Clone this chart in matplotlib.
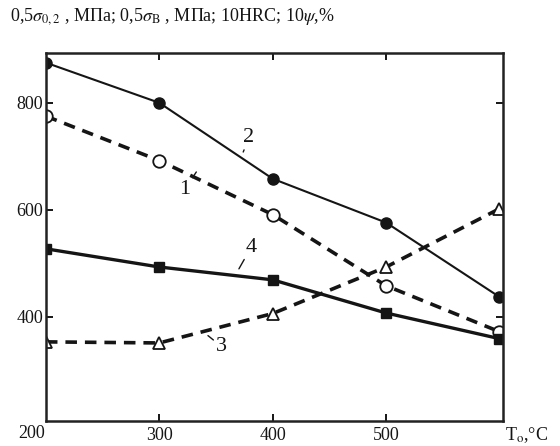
import matplotlib.pyplot as plt

# Температура отпуска, °C
temps = [200, 300, 400, 500, 600]

# 1 - 0,5σ0,2 (штрих, светлые кружки)
curve1 = [775, 692, 591, 458, 372]
# 2 - 0,5σв (сплошная, тёмные кружки)
curve2 = [875, 800, 658, 576, 437]
# 3 - 10ψ (штрих, треугольники)
curve3 = [353, 351, 406, 493, 602]
# 4 - 10HRC (сплошная толстая, квадраты)
curve4 = [527, 493, 469, 407, 359]

x_ticks = [300, 400, 500]
y_ticks = [400, 600, 800]

plt.rcParams["font.family"] = ["Liberation Serif", "DejaVu Serif"]
plt.rcParams["mathtext.fontset"] = "stix"

fig = plt.figure(figsize=(5.6, 4.46), dpi=100)
ax = fig.add_axes([0.082, 0.056, 0.816, 0.825])
ink = "#151515"

ax.plot(temps, curve2, color=ink, lw=1.5, marker="o", ms=8, mfc=ink, mec=ink)
ax.plot(temps, curve1, color=ink, lw=2.6, ls=(0, (3.2, 2.2)),
        marker="o", ms=9, mfc="white", mec=ink, mew=1.3)
ax.plot(temps, curve3, color=ink, lw=2.6, ls=(0, (3.2, 2.2)),
        marker="^", ms=9, mfc="white", mec=ink, mew=1.3)
ax.plot(temps, curve4, color=ink, lw=2.4, marker="s", ms=7.5, mfc=ink, mec=ink)

ax.set_xlim(200, 603)
ax.set_ylim(205, 893)
ax.set_xticks(x_ticks)
ax.set_yticks(y_ticks)
ax.tick_params(direction="in", top=True, right=True, length=5, width=1.4,
               labelsize=13, colors=ink)
ax.tick_params(axis="x", pad=4)
ax.tick_params(axis="y", pad=2)
for s in ax.spines.values():
    s.set_linewidth(1.8)
    s.set_color("#222222")

# подпись 200 в углу
ax.annotate("200", xy=(200, 205), xytext=(-1, -9), textcoords="offset points",
            ha="right", va="center", fontsize=13, color=ink, annotation_clip=False)

# номера кривых
lead = dict(arrowstyle="-", color=ink, lw=1.0, shrinkA=0, shrinkB=2)
ax.annotate("2", xy=(374, 708), xytext=(379, 735), ha="center", va="center",
            fontsize=16, color=ink, arrowprops=lead)
ax.annotate("1", xy=(334, 675), xytext=(322, 637), ha="center", va="center",
            fontsize=16, color=ink, arrowprops=lead)
ax.annotate("4", xy=(369, 485), xytext=(381, 530), ha="center", va="center",
            fontsize=16, color=ink, arrowprops=lead)
ax.annotate("3", xy=(341, 368), xytext=(355, 344), ha="center", va="center",
            fontsize=16, color=ink, arrowprops=lead)

fig.text(0.017, 0.962,
         r"0,5$\sigma_{0,2}$ , МПа; 0,5$\sigma_{\mathrm{B}}$ , МПа; 10HRC; 10$\psi$,%",
         ha="left", va="center", fontsize=13, color=ink)
fig.text(0.902, 0.025, r"T$_{\mathrm{o}}$,°C", ha="left", va="center",
         fontsize=13, color=ink)

fig.savefig("out.png", dpi=100, facecolor="white")
